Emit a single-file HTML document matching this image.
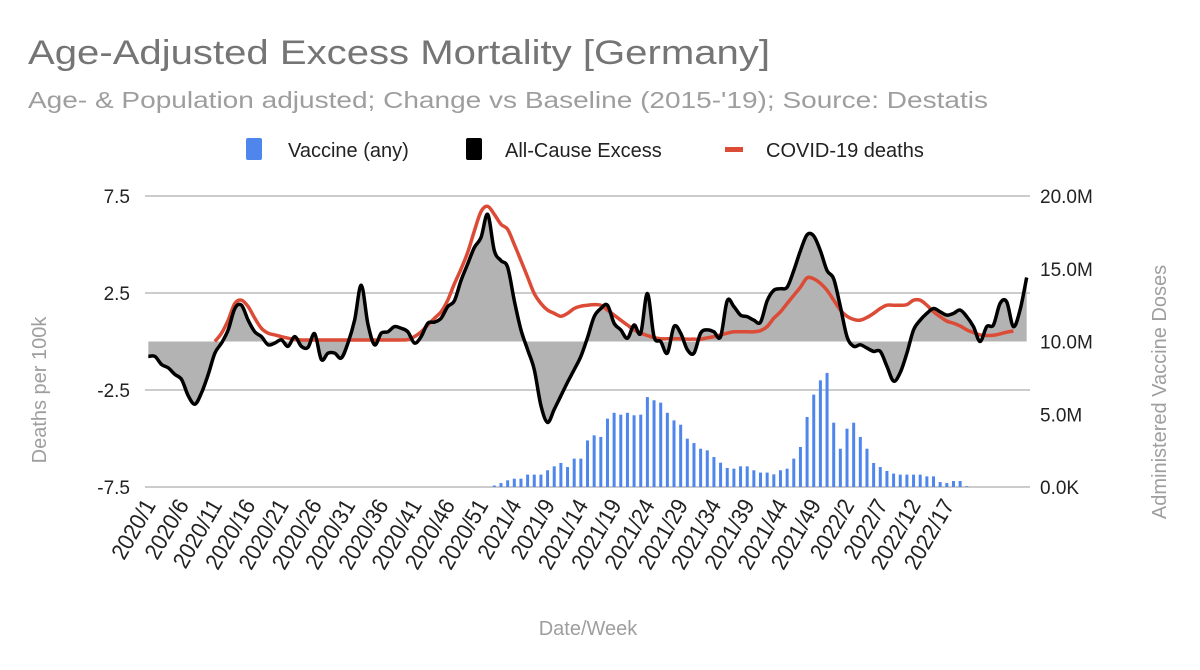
<!DOCTYPE html>
<html><head><meta charset="utf-8"><style>
html,body{margin:0;padding:0;background:#fff;}
svg{display:block;font-family:"Liberation Sans",Arial,sans-serif;}
</style></head><body>
<svg id="chart" width="1200" height="670" viewBox="0 0 1200 670" xmlns="http://www.w3.org/2000/svg">
<text x="28" y="64" font-size="34" fill="#757575" textLength="742" lengthAdjust="spacingAndGlyphs">Age-Adjusted Excess Mortality [Germany]</text>
<text x="28" y="108" font-size="23" fill="#9e9e9e" textLength="960" lengthAdjust="spacingAndGlyphs">Age- &amp; Population adjusted; Change vs Baseline (2015-'19); Source: Destatis</text>
<g>
<g><rect x="246" y="138" width="16" height="22" rx="2" fill="#4f86ec"/><text x="288" y="157" font-size="20" fill="#222">Vaccine (any)</text></g>
<g><rect x="466" y="138" width="16" height="22" rx="2" fill="#000"/><text x="505" y="157" font-size="20" fill="#222">All-Cause Excess</text></g>
<g><rect x="725" y="147" width="18" height="5" fill="#dc4b36"/><text x="766" y="157" font-size="20" fill="#222">COVID-19 deaths</text></g>
</g>
<g id="grid"></g><g id="bars"></g><g id="area"></g><g id="lines"></g><g id="axes"></g>
<text transform="translate(46,390) rotate(-90)" font-size="20" fill="#9e9e9e" text-anchor="middle">Deaths per 100k</text>
<text transform="translate(1166,392) rotate(-90)" font-size="20" fill="#9e9e9e" text-anchor="middle">Administered Vaccine Doses</text>
<text x="588" y="635" font-size="20" fill="#9e9e9e" text-anchor="middle">Date/Week</text>
</svg>
<script>
const excess=[-0.77,-0.77,-1.19,-1.36,-1.7,-1.96,-2.8,-3.23,-2.64,-1.7,-0.6,-0.08,0.6,1.7,1.87,1.1,0.5,0.25,-0.17,-0.08,0.08,-0.25,0.25,-0.25,-0.3,0.4,-0.93,-0.6,-0.6,-0.85,-0.08,1.1,2.9,0.9,-0.17,0.43,0.5,0.77,0.68,0.5,-0.08,0.25,0.94,1.0,1.2,1.8,2.1,3.15,4.0,4.85,5.36,6.55,4.68,4.17,3.83,2.1,0.6,-0.42,-1.45,-3.3,-4.17,-3.5,-2.8,-2.1,-1.45,-0.77,0.2,1.28,1.7,1.87,0.94,0.6,0.17,0.85,0.43,2.47,0.25,0,-0.6,0.77,0.43,-0.42,-0.6,0.43,0.6,0.5,0.25,2.1,1.8,1.36,1.28,1.1,1.0,2.1,2.64,2.72,2.8,3.66,4.68,5.5,5.44,4.68,3.66,3.23,1.8,0.25,-0.25,-0.17,-0.34,-0.51,-0.51,-1.28,-2.04,-1.6,-0.6,0.6,1.1,1.45,1.7,1.53,1.36,1.45,1.62,1.28,0.77,0,0.77,0.85,1.96,2.04,0.77,1.62,3.3];
const covid=[null,null,null,null,null,null,null,null,null,null,0.0,0.43,1.1,1.96,2.13,1.8,1.2,0.68,0.43,0.34,0.25,0.17,0.1,0.08,0.08,0.08,0.08,0.08,0.08,0.08,0.08,0.08,0.08,0.08,0.08,0.08,0.08,0.08,0.08,0.1,0.25,0.5,0.85,1.2,1.53,2.13,2.98,3.74,4.6,5.7,6.7,6.97,6.55,6.04,5.78,5.0,4.17,3.32,2.47,1.96,1.62,1.45,1.3,1.45,1.7,1.82,1.87,1.9,1.87,1.62,1.36,1.1,0.85,0.6,0.43,0.31,0.2,0.14,0.14,0.14,0.14,0.12,0.12,0.12,0.19,0.25,0.34,0.43,0.5,0.5,0.5,0.5,0.56,0.77,1.2,1.53,1.96,2.38,2.8,3.28,3.23,3.0,2.64,2.13,1.62,1.3,1.14,1.1,1.24,1.45,1.7,1.87,1.87,1.87,1.9,2.13,2.13,1.87,1.53,1.28,1.05,0.94,0.8,0.6,0.46,0.34,0.31,0.32,0.39,0.48,0.54,null,null];
const vaccineM=[0,0,0,0,0,0,0,0,0,0,0,0,0,0,0,0,0,0,0,0,0,0,0,0,0,0,0,0,0,0,0,0,0,0,0,0,0,0,0,0,0,0,0,0,0,0,0,0,0,0,0,0,0.1,0.27,0.46,0.57,0.57,0.85,0.85,0.85,1.15,1.42,1.65,1.37,1.95,1.95,3.2,3.55,3.44,4.7,5.1,4.97,5.1,4.93,4.97,6.18,5.96,5.8,5.1,4.58,4.28,3.32,3.02,2.63,2.52,2.06,1.67,1.31,1.26,1.42,1.42,1.15,0.99,0.99,0.87,1.15,1.26,1.95,2.75,4.81,6.35,7.33,7.84,4.42,2.63,4.01,4.42,3.44,2.63,1.65,1.37,1.1,0.92,0.85,0.85,0.85,0.85,0.73,0.73,0.34,0.27,0.41,0.41,0.05,0,0,0,0,0,0,0,0,0];
const leftTicks=[7.5,2.5,-2.5,-7.5];
const leftTickLabels=["7.5","2.5","-2.5","-7.5"];
const rightTicks=[20,15,10,5,0];
const rightTickLabels=["20.0M","15.0M","10.0M","5.0M","0.0K"];
const yearWeeks=[[2020,52],[2021,52],[2022,29]];

const NS="http://www.w3.org/2000/svg";
const weeks=[];yearWeeks.forEach(([y,n])=>{for(let w=1;w<=n;w++)weeks.push(y+"/"+w);});
const N=excess.length;
const L=145,R=1030,T=196,B=487;
const step=(R-L)/N;
const xs=i=>L+(i+0.5)*step;
const yl=v=>T+(7.5-v)/15*(B-T);
const yr=v=>B-v/20*(B-T);
function el(tag,attrs,parent){const e=document.createElementNS(NS,tag);for(const k in attrs)e.setAttribute(k,attrs[k]);parent.appendChild(e);return e;}
const grid=document.getElementById('grid'),bars=document.getElementById('bars'),area=document.getElementById('area'),lines=document.getElementById('lines'),axes=document.getElementById('axes');
leftTicks.forEach((t,k)=>{
  const g=el('line',{x1:L,x2:R,y1:yl(t),y2:yl(t),stroke:'#cccccc','stroke-width':2},grid);
  
  
  const lt=el('text',{x:130,y:yl(t)+7,'font-size':19,'text-anchor':'end',fill:'#222'},axes);
  lt.textContent=leftTickLabels[k];
  
  
});
rightTicks.forEach((t,k)=>{
  const rt=el('text',{x:1040,y:yr(t)+7,'font-size':19,'text-anchor':'start',fill:'#222'},axes);
  rt.textContent=rightTickLabels[k];
  
  
});
for(let i=0;i<N;i+=5){
  if(i>120)break;
  const tx=el('text',{transform:`translate(${xs(i)+8},505) rotate(-60) scale(0.92,1)`,'font-size':23,'text-anchor':'end',fill:'#222'},axes);
  tx.textContent=weeks[i];
  
  
}
vaccineM.forEach((v,i)=>{
  if(!v)return;
  const b=el('rect',{x:xs(i)-1.5,y:yr(v),width:3,height:B-yr(v),fill:'#4f86ec'},bars);
  
  
});
function smooth(pts){
  let d=`M${pts[0][0]},${pts[0][1]}`;
  for(let i=0;i<pts.length-1;i++){
    const p0=pts[i-1]||pts[i],p1=pts[i],p2=pts[i+1],p3=pts[i+2]||p2;
    const c1=[p1[0]+(p2[0]-p0[0])/6,p1[1]+(p2[1]-p0[1])/6];
    const c2=[p2[0]-(p3[0]-p1[0])/6,p2[1]-(p3[1]-p1[1])/6];
    d+=` C${c1[0]},${c1[1]} ${c2[0]},${c2[1]} ${p2[0]},${p2[1]}`;
  }
  return d;
}
const ePts=excess.map((v,i)=>[xs(i),yl(v)]);
const ed=smooth(ePts);
const a=el('path',{d:ed+` L${xs(N-1)},${yl(0)} L${xs(0)},${yl(0)} Z`,fill:'#b3b3b3'},area);


const cPts=[];covid.forEach((v,i)=>{if(v!==null)cPts.push([xs(i),yl(v)]);});
const cl=el('path',{d:smooth(cPts),fill:'none',stroke:'#dc4b36','stroke-width':3.5,'stroke-linejoin':'round'},lines);


const bl=el('path',{d:ed,fill:'none',stroke:'#000','stroke-width':3.5,'stroke-linejoin':'round'},lines);


</script>
</body></html>
